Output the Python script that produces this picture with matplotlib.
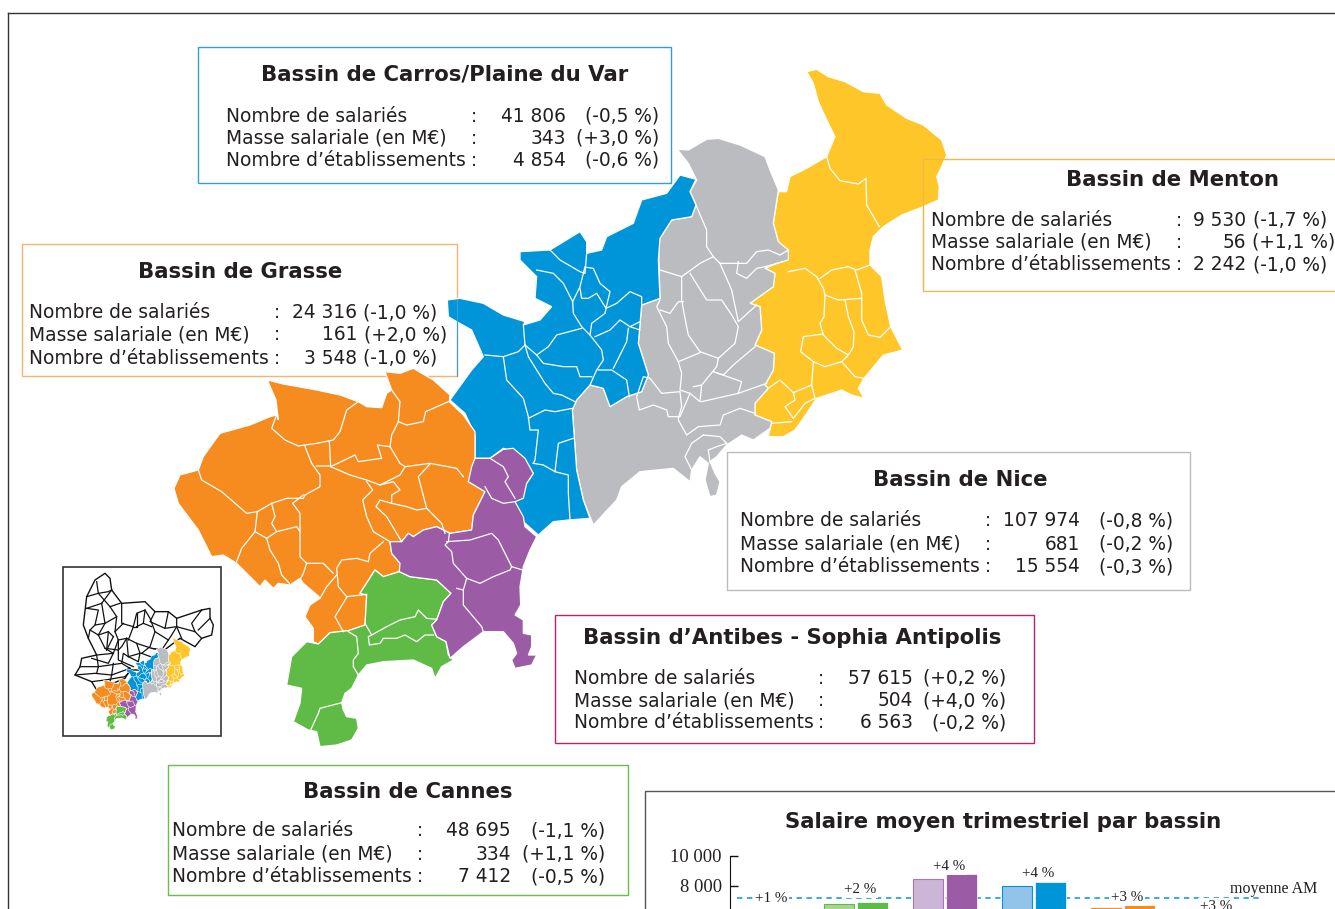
import matplotlib
matplotlib.use("Agg")
import matplotlib.pyplot as plt
from matplotlib.patches import Polygon, Rectangle

W, H = 1335, 909

# --- chart values
bar_groups = ["Cannes", "Carros", "Antibes", "Nice", "Grasse", "Menton"]
sal_prev = [6050, 6800, 8470, 7990, 6530, 5850]
sal_curr = [6110, 6950, 8780, 8270, 6730, 6030]
bar_pct = ["+1 %", "+2 %", "+4 %", "+4 %", "+3 %", "+3 %"]
bar_light = ["#c3e0b0", "#a9d68f", "#cdb5d8", "#92c3e8", "#fbc48e", "#fde3a0"]
bar_edge = ["#60bb46", "#60bb46", "#a878b4", "#0095d8", "#f68b1f", "#ffc629"]
bar_dark = ["#60bb46", "#60bb46", "#9b5ba5", "#0095d8", "#f68b1f", "#ffc629"]
moyenne_am = 7180
y_ticks = [10000, 8000]
y_tick_labels = ["10 000", "8 000"]

# --- bassin tables
row_labels = ["Nombre de salariés", "Masse salariale (en M€)", "Nombre d’établissements"]
carros = ["41 806", "343", "4 854"]
carros_pct = ["(-0,5 %)", "(+3,0 %)", "(-0,6 %)"]
grasse = ["24 316", "161", "3 548"]
grasse_pct = ["(-1,0 %)", "(+2,0 %)", "(-1,0 %)"]
menton = ["9 530", "56", "2 242"]
menton_pct = ["(-1,7 %)", "(+1,1 %)", "(-1,0 %)"]
nice = ["107 974", "681", "15 554"]
nice_pct = ["(-0,8 %)", "(-0,2 %)", "(-0,3 %)"]
antibes = ["57 615", "504", "6 563"]
antibes_pct = ["(+0,2 %)", "(+4,0 %)", "(-0,2 %)"]
cannes = ["48 695", "334", "7 412"]
cannes_pct = ["(-1,1 %)", "(+1,1 %)", "(-0,5 %)"]

# --- map outlines, read off crops of the picture
# north part, crop origin (440, 60), 3x
yellow = [(1100,35),(1130,28),(1165,50),(1215,65),(1270,95),(1320,100),(1340,135),(1400,175),(1450,195),(1505,240),(1520,285),(1505,320),(1490,350),(1498,380),(1495,420),(1450,440),(1385,465),(1330,500),(1300,530),(1290,570),(1290,615),(1325,650),(1335,720),(1352,800),(1388,870),(1330,885),(1272,955),(1255,985),(1272,1015),(1235,1005),(1205,990),(1130,1015),(1090,1075),(1065,1110),(1030,1130),(985,1130),(995,1085),(945,1065),(945,1030),(985,985),(975,975),(1000,930),(1003,880),(945,855),(965,810),(960,740),(930,730),(1000,680),(1005,640),(975,625),(1010,610),(1035,600),(1015,545),(1000,490),(1015,395),(1040,395),(1050,350),(1100,325),(1160,290),(1185,230),(1165,190),(1135,125),(1120,70)]
grey = [(712,268),(745,270),(800,238),(835,235),(900,255),(975,290),(990,330),(1015,390),(1000,490),(1015,545),(1045,570),(1045,600),(1010,610),(975,625),(1005,640),(1000,680),(930,730),(960,740),(965,810),(945,855),(1003,880),(1000,930),(975,975),(985,985),(945,1030),(945,1065),(995,1085),(990,1105),(940,1140),(905,1125),(860,1155),(830,1190),(810,1205),(825,1240),(840,1265),(830,1305),(810,1310),(795,1260),(805,1210),(780,1190),(755,1230),(750,1265),(700,1225),(600,1235),(545,1280),(530,1320),(460,1395),(430,1320),(410,1230),(397,1050),(410,1020),(450,975),(490,985),(510,1040),(560,1010),(605,995),(625,945),(595,850),(605,735),(660,715),(655,540),(695,480),(755,470),(768,435),(750,395),(770,360),(745,310)]
blue = [(720,345),(768,358),(750,395),(768,435),(755,470),(695,480),(660,535),(655,600),(660,715),(605,735),(595,850),(625,945),(605,995),(560,1010),(510,1040),(490,985),(450,975),(410,1020),(397,1050),(410,1230),(430,1320),(450,1375),(385,1380),(340,1385),(295,1425),(250,1385),(220,1330),(280,1240),(235,1180),(190,1165),(150,1195),(105,1195),(105,1125),(75,1060),(30,1020),(95,930),(130,890),(95,810),(50,785),(25,770),(22,720),(60,715),(130,730),(190,765),(255,785),(250,795),(300,780),(335,740),(285,715),(290,650),(240,600),(240,575),(330,570),(420,515),(440,545),(440,580),(485,570),(500,530),(580,490),(605,420),(680,400)]
north_lines = [
    [(1160,290),(1170,325),(1200,362),(1255,372),(1278,355),(1280,435),(1318,500)],
    [(1045,635),(1095,625),(1130,650),(1150,685),(1155,705),(1195,720),(1265,715)],
    [(1140,655),(1175,630),(1225,620),(1250,630),(1290,615)],
    [(1245,630),(1265,700),(1265,780),(1285,825),(1320,832),(1352,800)],
    [(1155,705),(1152,770),(1140,790),(1150,825),(1190,865),(1225,885),(1240,860),(1242,815),(1225,770),(1215,720)],
    [(1150,822),(1090,830),(1082,875),(1120,905),(1115,975),(1060,998),(1020,960),(985,985)],
    [(1120,905),(1155,920),(1205,905),(1225,885)],
    [(1205,905),(1245,950),(1272,955)],
    [(1115,975),(1125,1015),(1095,1030),(1060,1075),(1035,1040),(1065,1020),(1060,998)],
    [(1055,1085),(995,1090)],
    [(330,570),(360,600),(420,635),(435,640),(440,580)],
    [(435,620),(420,680),(398,725),(400,760),(425,800),(450,825),(485,870),(490,900),(470,930),(450,975)],
    [(398,725),(370,670),(340,640),(290,630)],
    [(440,622),(460,625),(480,670),(510,695),(498,745),(470,700),(445,715),(425,715),(420,685)],
    [(498,745),(530,730),(570,695),(605,710),(605,735)],
    [(498,745),(495,760),(455,790),(450,825)],
    [(425,805),(350,825),(325,860),(290,885),(255,855),(250,795)],
    [(290,885),(310,910),(370,920),(410,920),(420,950),(455,950)],
    [(255,855),(265,890),(315,970),(340,1000),(365,1005),(405,1025)],
    [(255,855),(235,875),(190,890),(135,885)],
    [(190,890),(200,960),(250,1015),(265,1070),(270,1110),(295,1110),(285,1200),(280,1210)],
    [(265,1075),(315,1050),(345,1055),(397,1045)],
    [(280,1210),(310,1215),(345,1235),(385,1245),(385,1300),(390,1380)],
    [(345,1235),(355,1150),(400,1135)],
    [(465,830),(510,810),(540,780),(570,800),(600,785)],
    [(570,800),(600,810)],
    [(565,805),(560,845),(520,925)],
    [(475,930),(515,930),(560,960),(568,1010)],
    [(770,440),(800,510),(800,560),(820,590),(840,610),(895,610),(920,610),(950,575),(985,570),(1020,585),(1045,570)],
    [(895,605),(890,640),(920,655),(950,625),(975,620),(1030,605)],
    [(820,590),(780,610),(725,650),(660,630)],
    [(725,650),(725,720),(735,775),(745,825),(780,875),(835,895),(885,850),(895,800),(875,765),(845,720),(800,720),(750,640)],
    [(840,610),(875,690),(895,785),(950,735)],
    [(660,720),(650,740),(680,800),(685,850),(715,905),(780,878)],
    [(660,750),(690,760),(715,725),(730,725)],
    [(715,905),(725,940),(720,990),(750,1000),(780,1025),(785,975),(760,980)],
    [(835,895),(830,920),(785,975)],
    [(820,935),(905,965),(895,1000),(980,970)],
    [(785,1025),(895,1000)],
    [(820,935),(850,945),(880,915),(945,860)],
    [(665,1000),(630,955),(610,950),(590,1010),(598,1050),(640,1035),(680,1050),(685,1070),(720,1070),(750,1000)],
    [(665,1000),(720,995),(725,1040),(715,1075)],
    [(715,1080),(740,1125),(775,1100),(840,1095),(850,1065),(900,1045),(945,1060)],
    [(790,1125),(840,1130),(860,1150)],
    [(790,1125),(755,1150),(735,1190),(755,1230)],
    [(860,1150),(830,1160),(805,1170),(810,1205)],
]

# south part, crop origin (170, 360), 3x
orange = [(292,60),(340,72),(440,90),(510,105),(565,125),(590,140),(635,143),(650,100),(665,90),(645,35),(690,40),(730,25),(790,60),(840,105),(838,125),(880,165),(915,215),(915,295),(900,355),(895,365),(945,395),(930,425),(910,465),(905,510),(840,520),(800,500),(760,510),(730,530),(715,520),(695,545),(660,545),(665,580),(690,610),(688,635),(640,650),(615,630),(570,700),(590,705),(585,795),(535,812),(480,818),(445,852),(430,845),(430,805),(405,770),(420,735),(450,715),(445,708),(400,670),(390,655),(360,675),(325,670),(310,685),(285,660),(270,680),(200,610),(160,585),(125,590),(85,510),(25,430),(12,385),(30,345),(85,330),(100,290),(150,220),(240,195),(300,170),(320,165),(325,180),(318,120)]
green = [(615,630),(640,650),(688,635),(720,650),(800,660),(843,700),(820,725),(800,780),(785,795),(800,830),(828,845),(835,885),(850,900),(815,920),(795,955),(785,925),(730,900),(640,905),(590,915),(565,945),(545,985),(525,1000),(515,1028),(520,1050),(530,1070),(560,1075),(565,1105),(545,1140),(500,1155),(450,1160),(440,1115),(415,1110),(370,1085),(390,1030),(395,985),(350,975),(365,890),(410,845),(445,852),(480,818),(535,812),(585,795),(590,705),(570,700)]
purple = [(1000,268),(1030,265),(1065,295),(1090,340),(1070,370),(1060,415),(1035,425),(1060,470),(1065,500),(1100,530),(1080,570),(1060,620),(1050,680),(1052,735),(1035,765),(1060,780),(1060,820),(1085,825),(1085,860),(1075,885),(1100,885),(1085,915),(1035,925),(1025,900),(1040,880),(1030,850),(1000,815),(940,815),(880,860),(840,895),(828,845),(800,830),(785,795),(800,780),(820,725),(843,700),(800,660),(720,650),(688,635),(690,610),(665,580),(660,545),(695,545),(715,520),(730,530),(760,510),(800,500),(840,520),(905,510),(910,465),(930,425),(945,395),(895,365),(905,320),(915,295),(960,295)]
south_lines = [
    [(318,170),(305,205),(345,240),(385,258),(440,250),(490,240),(510,215),(530,150),(565,125)],
    [(405,260),(425,310),(450,345),(450,380),(405,405),(400,415),(350,415),(305,430),(262,455),(230,460),(155,395),(95,360),(85,330)],
    [(478,245),(482,318),(440,318)],
    [(482,320),(555,285),(565,305),(635,295),(622,255),(660,260),(690,310),(705,320),(780,310),(860,325),(880,350)],
    [(482,320),(540,345),(590,360),(630,375),(690,345),(705,320)],
    [(665,90),(690,125),(685,185),(710,195),(760,185),(767,155),(835,125)],
    [(685,185),(665,225),(660,260)],
    [(590,365),(608,390),(578,420),(590,470),(610,515),(660,545)],
    [(630,375),(670,365),(690,390),(665,405),(665,430),(710,440),(740,450),(770,445),(745,350),(780,312)],
    [(665,430),(630,420),(618,440),(650,470),(695,545)],
    [(770,445),(815,490),(825,520)],
    [(262,455),(255,515),(215,565),(198,610)],
    [(305,430),(315,470),(305,490),(320,515),(380,500),(390,515),(390,460),(368,430),(400,405)],
    [(255,515),(290,535),(320,515)],
    [(290,535),(300,570),(325,610),(335,645),(358,670)],
    [(390,515),(390,590),(410,610),(400,640),(392,655)],
    [(410,610),(460,610),(490,640)],
    [(640,545),(600,580),(595,605),(560,595),(515,600),(500,625),(505,680),(530,710)],
    [(500,645),(470,680),(450,715)],
    [(530,712),(495,770),(520,815)],
    [(530,710),(590,703)],
    [(585,790),(605,825),(650,800),(690,780),(735,770),(745,750),(770,775),(800,778)],
    [(605,825),(595,830),(598,855),(630,850),(640,835),(680,835),(705,825),(740,845),(765,825),(790,825)],
    [(535,815),(560,830),(565,880),(550,900),(550,920),(565,945)],
    [(515,1028),(450,1045),(445,1060),(422,1110)],
    [(960,295),(1000,320),(1015,350),(1005,365),(1035,415)],
    [(945,380),(965,415),(1000,430),(1035,425)],
    [(838,520),(835,545),(825,555),(845,575),(850,610),(890,655),(880,690),(860,685)],
    [(830,545),(900,540),(965,520),(985,540),(1010,590),(1025,620),(1058,630)],
    [(890,655),(930,670),(970,650),(1020,630),(1025,620)],
    [(880,690),(880,735),(935,800),(940,815)],
]

# inset outline and communes, crop origin (55, 560), 3x
inset_outline = [(100,235),(85,195),(95,110),(120,60),(150,40),(165,55),(170,90),(200,130),(270,125),(300,155),(340,155),(365,175),(440,150),(465,145),(465,175),(475,195),(470,225),(440,235),(420,260),(375,235),(335,265),(260,330),(225,330),(210,355),(125,390),(110,365),(60,345),(75,320),(80,295),(125,285)]
inset_lines = [
    [(95,145),(130,150),(120,195),(105,210),(130,225),(160,215),(175,230)],
    [(130,100),(165,140),(185,170),(180,215),(190,240),(215,235),(245,250),(255,280)],
    [(200,130),(200,190),(235,200),(245,160),(270,150),(285,175),(300,215),(340,240)],
    [(300,155),(285,185),(330,205),(365,200),(420,215),(440,235)],
    [(365,175),(365,200),(380,235)],
    [(430,210),(465,175)],
    [(110,295),(160,310),(175,280),(125,285)],
    [(75,320),(130,320),(200,310),(225,325)],
    [(60,345),(120,340),(170,345),(225,325)],
    [(190,240),(190,300),(235,320)],
    [(130,225),(150,265),(175,280)],
    [(215,235),(220,290),(250,305)],
    [(245,250),(290,265),(320,270)],
    [(160,215),(155,270)],
    [(110,365),(150,360),(210,350),(230,330)],
    [(170,345),(165,365)],
    [(140,130),(150,190),(130,225)],
    [(235,200),(220,240)],
    [(260,280),(300,295)],
    [(170,90),(140,130)],
    [(330,205),(340,155)],
    [(125,65),(130,100),(95,110)],
    [(130,100),(160,95),(170,90)],
    [(95,145),(140,130)],
    [(165,140),(195,130)],
    [(150,190),(185,170)],
    [(180,215),(205,190)],
    [(120,195),(150,190)],
    [(105,210),(100,235)],
    [(175,230),(155,270)],
    [(190,240),(175,280)],
    [(215,235),(200,260),(190,270)],
    [(245,160),(245,200),(235,200)],
    [(270,150),(265,190),(290,200)],
    [(245,200),(265,190)],
    [(300,215),(285,260),(260,280)],
    [(220,290),(255,280)],
    [(250,305),(255,280)],
    [(340,240),(320,270),(290,265)],
    [(125,285),(130,320)],
    [(200,310),(205,280),(220,290)],
    [(150,265),(190,270)],
    [(365,200),(350,225),(340,240)],
    [(420,215),(410,190),(440,150)],
    [(130,320),(125,340)],
    [(170,345),(175,310)],
    [(225,325),(235,355)],
]

TXT = "#231f20"
SERIF = "Liberation Serif"
ROW_FS = 13.4
TITLE_FS = 15.3


def north(pts):
    return [(440 + x / 3, 60 + y / 3) for x, y in pts]


def south(pts):
    return [(170 + x / 3, 360 + y / 3) for x, y in pts]


def crop4(pts):
    return [(55 + x / 3, 560 + y / 3) for x, y in pts]


def small(pts):
    # main map scaled down into the inset
    return [(91.7 + (x - 175) * 0.128, 638.3 + (y - 70) * 0.135) for x, y in pts]


def draw_map(ax, conv, lw, z):
    shapes = [(north(yellow), "#ffc629"), (north(grey), "#bbbcbf"), (north(blue), "#0095d8"),
              (south(orange), "#f68b1f"), (south(green), "#60bb46"), (south(purple), "#9b5ba5")]
    for pts, col in shapes:
        ax.add_patch(Polygon(conv(pts), closed=True, fc=col, ec="white", lw=lw, zorder=z))
    for line in north_lines:
        xy = conv(north(line))
        ax.plot([p[0] for p in xy], [p[1] for p in xy], color="white", lw=lw, zorder=z + 1)
    for line in south_lines:
        xy = conv(south(line))
        ax.plot([p[0] for p in xy], [p[1] for p in xy], color="white", lw=lw, zorder=z + 1)


def box(ax, x0, y0, x1, y1, col):
    ax.add_patch(Rectangle((x0, y0), x1 - x0, y1 - y0, fc="none", ec=col, lw=1.0, zorder=2, clip_on=True))


def table(ax, title, title_x, title_y, values, pcts, xs, ys, pct_right):
    # xs: label left, colon, number right
    ax.text(title_x, title_y + 0.5, title, ha="center", va="center", fontsize=TITLE_FS, fontweight="bold", color=TXT, zorder=8)
    for i in range(3):
        y = ys[i] + 1
        ax.text(xs[0], y, row_labels[i], ha="left", va="center", fontsize=ROW_FS, color=TXT, zorder=8)
        ax.text(xs[1], y, ":", ha="center", va="center", fontsize=ROW_FS, color=TXT, zorder=8)
        ax.text(xs[2], y, values[i], ha="right", va="center", fontsize=ROW_FS, color=TXT, zorder=8)
        ax.text(pct_right[i], y, pcts[i], ha="right", va="center", fontsize=ROW_FS, color=TXT, zorder=8)


fig = plt.figure(figsize=(W / 100, H / 100), dpi=100)
ax = fig.add_axes([0, 0, 1, 1])
ax.set_xlim(0, W)
ax.set_ylim(H, 0)
ax.axis("off")

# page frame
ax.plot([8, 8], [H, 13], color="#333333", lw=1.0, zorder=1)
ax.plot([8, W], [13, 13], color="#333333", lw=1.0, zorder=1)

box(ax, 198, 47, 671, 183, "#2f9fd8")
box(ax, 22, 244, 457, 376, "#f9b36e")
box(ax, 923, 159, W + 5, 291, "#e9bc4e")
box(ax, 727, 452, 1190, 590, "#bbbcbf")
box(ax, 555, 615, 1034, 743, "#b5226e")
box(ax, 168, 765, 628, 895, "#6cbb4d")
box(ax, 645, 791, W + 5, H + 5, "#555555")

draw_map(ax, lambda p: p, 0.9, 3)

# faint box edges that run over the map
ax.plot([923, 923], [159, 291], color="#e9bc4e", lw=0.8, zorder=5)
ax.plot([923, 946], [159, 159], color="#e9bc4e", lw=0.8, zorder=5)
ax.plot([457, 457], [300, 376], color="#3aa0d8", lw=0.8, zorder=5)

# inset
ax.add_patch(Rectangle((63, 567), 158, 169, fc="white", ec="#333333", lw=1.2, zorder=5))
xy = crop4(inset_outline)
ax.add_patch(Polygon(xy, closed=True, fc="white", ec="#111111", lw=1.0, zorder=5))
for line in inset_lines:
    xy = crop4(line)
    ax.plot([p[0] for p in xy], [p[1] for p in xy], color="#111111", lw=0.9, zorder=5)
draw_map(ax, small, 0.4, 6)

table(ax, "Bassin de Carros/Plaine du Var", 445, 74, carros, carros_pct, (226, 474, 566), (115, 137, 159), (659, 659, 659))
table(ax, "Bassin de Grasse", 240, 272, grasse, grasse_pct, (29, 277, 357), (312, 334, 357), (437, 447, 437))
table(ax, "Bassin de Menton", 1172, 179, menton, menton_pct, (931, 1179, 1246), (219, 241, 264), (1327, 1335, 1327))
table(ax, "Bassin de Nice", 960, 480, nice, nice_pct, (740, 988, 1080), (520, 543, 566), (1173, 1173, 1173))
table(ax, "Bassin d’Antibes - Sophia Antipolis", 792, 637, antibes, antibes_pct, (574, 821, 913), (677, 700, 722), (1006, 1006, 1006))
table(ax, "Bassin de Cannes", 408, 791, cannes, cannes_pct, (172, 420, 511), (830, 853, 876), (605, 605, 605))
ax.text(1003, 821.5, "Salaire moyen trimestriel par bassin", ha="center", va="center",
        fontsize=TITLE_FS, fontweight="bold", color=TXT, zorder=8)

# bars: axes cut by the bottom of the image
bx = fig.add_axes([730 / W, 0, (W - 730) / W, (H - 855.5) / H])
bx.patch.set_alpha(0)
bx.set_xlim(730, W)
bx.set_ylim(10000 - (H - 855.5) / 15.15 * 1000, 10000)
for i in range(len(bar_groups)):
    left = 824 + (i - 1) * 89
    bx.bar(left + 15, sal_prev[i], width=30, color=bar_light[i], edgecolor=bar_edge[i], lw=0.8, zorder=3)
    bx.bar(left + 48, sal_curr[i], width=31, color=bar_dark[i], edgecolor="white", lw=0.5, zorder=3)
bx.plot([737, 1262], [moyenne_am, moyenne_am], color="#0095d8", lw=1.1, ls=(0, (3.5, 3)), zorder=2)
pct_y = [7180, 7780, 9300, 8830, 7240, 6640]
for i, lab in enumerate(bar_pct):
    left = 824 + (i - 1) * 89
    bx.text(left + 36, pct_y[i], lab, ha="center", va="center", family=SERIF, fontsize=10.8,
            color=TXT, zorder=5, bbox=dict(fc="white", ec="none", pad=1.5))
bx.text(1274, 7800, "moyenne AM", ha="center", va="center", family=SERIF, fontsize=11.5, color=TXT)
bx.set_yticks(y_ticks)
bx.set_yticklabels(y_tick_labels, family=SERIF, fontsize=13.3, color=TXT)
for t in bx.get_yticklabels():
    t.set_verticalalignment("center_baseline")
bx.set_xticks([])
bx.tick_params(axis="y", direction="in", length=6, width=1.0, pad=6, color="#111111")
for s in ["top", "right", "bottom"]:
    bx.spines[s].set_visible(False)
bx.spines["left"].set_color("#111111")

fig.savefig("out.png", dpi=100)
